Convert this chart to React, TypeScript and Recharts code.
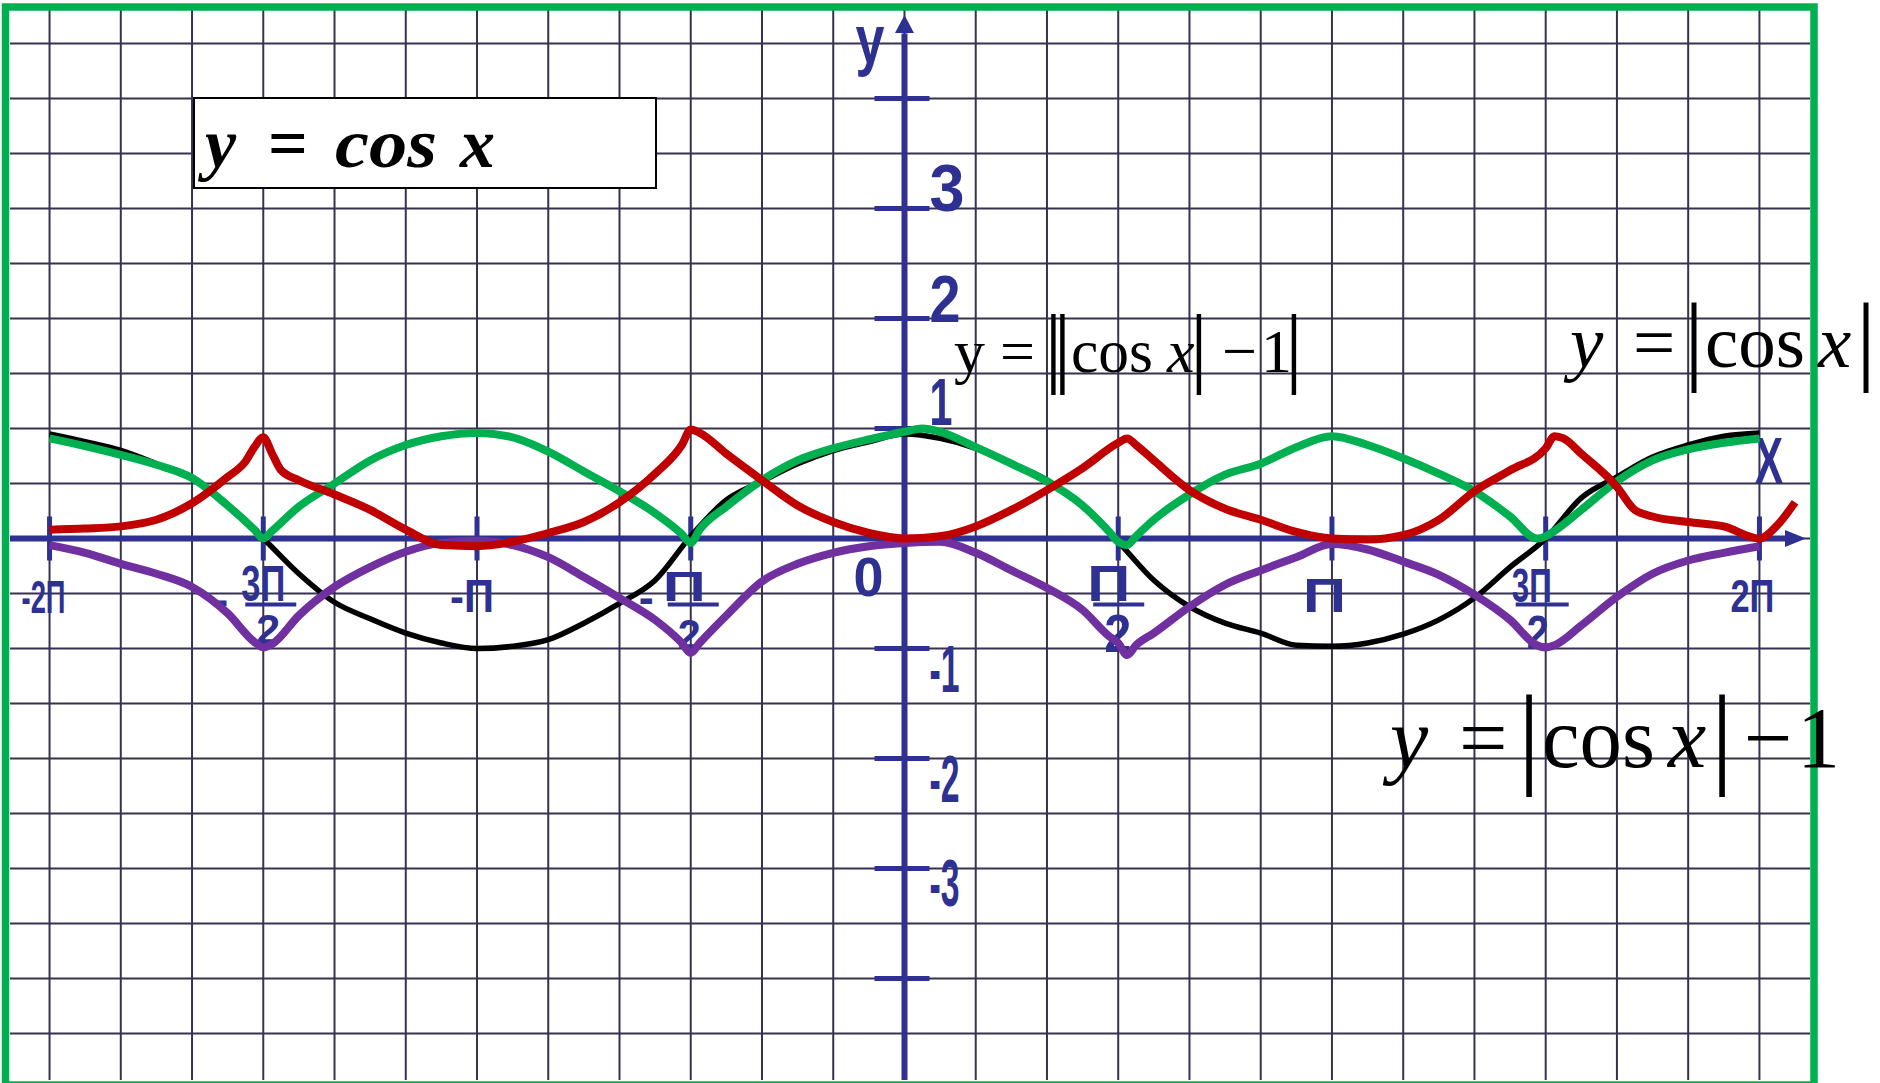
import { Line, LineChart, ReferenceDot, ReferenceLine, XAxis, YAxis } from 'recharts'

const BLUE = '#2E3192'
const GRID = '#37334f'
const LABEL_FONT = "'Liberation Sans Narrow', 'Liberation Sans', Arial, sans-serif"
const SERIF = "'Liberation Serif', 'Times New Roman', serif"

// x is measured in units of π, sampled every π/12 from -2π to 2π
const X_PI = [
  -2, -23 / 12, -11 / 6, -7 / 4, -5 / 3, -19 / 12, -3 / 2, -17 / 12, -4 / 3, -5 / 4, -7 / 6, -13 / 12,
  -1, -11 / 12, -5 / 6, -3 / 4, -2 / 3, -7 / 12, -1 / 2, -5 / 12, -1 / 3, -1 / 4, -1 / 6, -1 / 12,
  0, 1 / 12, 1 / 6, 1 / 4, 1 / 3, 5 / 12, 1 / 2, 7 / 12, 2 / 3, 3 / 4, 5 / 6, 11 / 12,
  1, 13 / 12, 7 / 6, 5 / 4, 4 / 3, 17 / 12, 3 / 2, 19 / 12, 5 / 3, 7 / 4, 11 / 6, 23 / 12, 2,
]

// y = cos x (black)
const COS_Y = [
  0.95, 0.88, 0.8, 0.68, 0.55, 0.3, 0.0, -0.32, -0.58, -0.73, -0.86, -0.95,
  -1.0, -0.98, -0.92, -0.77, -0.59, -0.38, 0.02, 0.35, 0.52, 0.68, 0.8, 0.88,
  0.95, 0.91, 0.82, 0.68, 0.53, 0.29, -0.03, -0.38, -0.62, -0.77, -0.86, -0.97,
  -0.98, -0.95, -0.87, -0.74, -0.54, -0.26, 0.0, 0.37, 0.56, 0.74, 0.85, 0.93, 0.96,
]

// y = |cos x| (green)
const ABS_Y = [
  0.91, 0.84, 0.76, 0.67, 0.55, 0.3, 0.0, 0.29, 0.5, 0.71, 0.85, 0.93,
  0.96, 0.92, 0.79, 0.61, 0.43, 0.23, -0.04, 0.29, 0.53, 0.71, 0.82, 0.9,
  0.97, 0.97, 0.83, 0.68, 0.52, 0.3, -0.03, 0.17, 0.4, 0.58, 0.68, 0.83,
  0.93, 0.85, 0.73, 0.59, 0.43, 0.2, 0.02, 0.26, 0.52, 0.71, 0.81, 0.87, 0.91,
]
const ABS_EXTRA = [
  [-1.5 - 1 / 48, 0.08], [-1.5 + 1 / 48, 0.07], [-0.5 - 1 / 48, 0.04], [-0.5 + 1 / 48, 0.08],
  [1 / 24, 1.0], [0.5 - 1 / 48, 0.06], [0.5 + 1 / 48, -0.06], [0.5 + 1 / 24, 0.02],
  [1.5 - 1 / 48, 0.0], [1.5 + 1 / 48, 0.07],
]

// y = |cos x| - 1 (purple)
const ABS_M1_Y = [
  -0.06, -0.13, -0.23, -0.32, -0.44, -0.68, -0.99, -0.7, -0.44, -0.26, -0.12, -0.04,
  -0.02, -0.06, -0.17, -0.35, -0.54, -0.74, -1.04, -0.7, -0.39, -0.23, -0.13, -0.07,
  -0.04, -0.03, -0.13, -0.29, -0.45, -0.65, -0.95, -0.86, -0.62, -0.42, -0.29, -0.17,
  -0.05, -0.1, -0.21, -0.33, -0.51, -0.74, -0.99, -0.79, -0.53, -0.32, -0.2, -0.13, -0.07,
]
const ABS_M1_EXTRA = [
  [-1.5 - 1 / 48, -0.94], [-1.5 + 1 / 48, -0.96], [-0.5 - 1 / 48, -0.95], [-0.5 + 1 / 48, -0.95],
  [0.5 - 1 / 48, -0.89], [0.5 + 1 / 48, -1.06], [0.5 + 1 / 24, -0.97],
  [1.5 - 1 / 48, -0.97], [1.5 + 1 / 48, -0.97],
]

// y = ||cos x| - 1| (red)
const ABS_ABS_Y = [
  0.08, 0.09, 0.11, 0.17, 0.32, 0.56, 0.92, 0.53, 0.4, 0.26, 0.08, -0.06,
  -0.07, -0.03, 0.05, 0.15, 0.33, 0.59, 0.99, 0.77, 0.53, 0.3, 0.15, 0.05,
  0.0, 0.02, 0.11, 0.26, 0.44, 0.64, 0.87, 0.71, 0.44, 0.27, 0.17, 0.06,
  0.0, -0.01, 0.03, 0.17, 0.43, 0.62, 0.82, 0.77, 0.47, 0.2, 0.15, 0.11, 0.0,
]
const ABS_ABS_EXTRA = [
  [-1.5 - 1 / 24, 0.7], [-1.5 - 1 / 48, 0.83], [-1.5 + 1 / 48, 0.77], [-1.5 + 1 / 24, 0.62],
  [-0.5 - 1 / 48, 0.85], [-0.5 + 1 / 48, 0.96], [0.5 + 1 / 48, 0.91], [0.5 + 1 / 24, 0.85],
  [1.5 + 1 / 48, 0.93], [1.5 + 1 / 24, 0.91], [5 / 3 + 1 / 24, 0.26], [2 + 1 / 24, 0.12], [2 + 1 / 12, 0.33],
]

const X_TICKS = [-2, -1.5, -1, -0.5, 0.5, 1, 1.5, 2]
const X_TICK_TEXT = ['-2П', '-3П/2', '-П', '-П/2', 'П/2', 'П', '3П/2', '2П']
const Y_TICKS = [-4, -3, -2, -1, 1, 2, 3, 4]
const Y_TICK_TEXT = ['', '-3', '-2', '-1', '1', '2', '3', '']

// squared paper: every π/6 across, every 0.5 down
const GRID_X = Array.from({ length: 25 }, (_, i) => -2 + i / 6)
const GRID_Y = Array.from({ length: 19 }, (_, i) => -4.5 + i * 0.5)

// plot box 10..1810 x 10..1080 px; x: 0 -> 904.5px, π = 427.47px; y: 0 -> 538.5px, 1 = 110px
const X_DOMAIN = [-2.0925, 2.1183]
const Y_DOMAIN = [-4.9227, 4.8045]
const X_TIP = 2.109
const X_ARROW_BASE = 2.064
const Y_TIP = 4.759
const Y_ARROW_BASE = 4.59

type Box = { dx: number; w: number; base: number; size: number }
type XLab = { minus?: { dx: number; w: number; base: number }; num: Box; bar?: { x1: number; x2: number; y: number }; den?: Box }

const X_LABEL_LAYOUT: XLab[] = [
  { num: { dx: -28, w: 44, base: 75, size: 47 } },
  {
    minus: { dx: -50, w: 15, base: 77 },
    num: { dx: -22, w: 44, base: 63, size: 50 },
    bar: { x1: -18, x2: 33, y: 66 },
    den: { dx: -7, w: 24, base: 106, size: 42 },
  },
  { num: { dx: -27, w: 44, base: 74, size: 47 } },
  {
    minus: { dx: -52, w: 15, base: 75 },
    num: { dx: -28, w: 43, base: 63, size: 42 },
    bar: { x1: -23, x2: 28, y: 66 },
    den: { dx: -13, w: 23, base: 111, size: 42 },
  },
  {
    num: { dx: -31, w: 43, base: 63, size: 50 },
    bar: { x1: -25, x2: 26, y: 66 },
    den: { dx: -14, w: 27, base: 114, size: 54 },
  },
  { num: { dx: -29, w: 43, base: 74, size: 48 } },
  {
    num: { dx: -34, w: 40, base: 64, size: 48 },
    bar: { x1: -30, x2: 23, y: 66 },
    den: { dx: -19, w: 22, base: 111, size: 48 },
  },
  { num: { dx: -29, w: 44, base: 74, size: 47 } },
]

const Y_LABEL_LAYOUT = [
  null,
  { w: 30, base: 37 },
  { w: 30, base: 43 },
  { w: 30, base: 44 },
  { w: 23, base: -3 },
  { w: 31, base: 4 },
  { w: 35, base: 3 },
  null,
]

function buildSeries(values: number[], extra: number[][]) {
  const pts = X_PI.map((x, i) => ({ x, y: values[i] }))
  extra.forEach(([x, y]) => pts.push({ x, y }))
  return pts.sort((a, b) => a.x - b.x)
}

function BlueText({ x, y, w, size, children }: { x: number; y: number; w: number; size: number; children: string }) {
  return (
    <text
      x={x}
      y={y}
      fontFamily={LABEL_FONT}
      fontWeight={700}
      fontSize={size}
      fill={BLUE}
      textLength={w}
      lengthAdjust="spacingAndGlyphs"
    >
      {children}
    </text>
  )
}

function XTickMark({ cx, cy, index }: any) {
  const text = X_TICK_TEXT[index]
  const lay = X_LABEL_LAYOUT[index]
  const frac = text.includes('/')
  const body = frac ? text.replace(/^-/, '').split('/') : [text]
  return (
    <g>
      <line x1={cx} y1={cy - 22} x2={cx} y2={cy + 22} stroke={BLUE} strokeWidth={5} />
      {lay.minus && (
        <BlueText x={cx + lay.minus.dx} y={cy + lay.minus.base} w={lay.minus.w} size={47}>
          -
        </BlueText>
      )}
      <BlueText x={cx + lay.num.dx} y={cy + lay.num.base} w={lay.num.w} size={lay.num.size}>
        {body[0]}
      </BlueText>
      {lay.bar && (
        <line x1={cx + lay.bar.x1} y1={cy + lay.bar.y} x2={cx + lay.bar.x2} y2={cy + lay.bar.y} stroke={BLUE} strokeWidth={4} />
      )}
      {lay.den && frac && (
        <BlueText x={cx + lay.den.dx} y={cy + lay.den.base} w={lay.den.w} size={lay.den.size}>
          {body[1]}
        </BlueText>
      )}
    </g>
  )
}

function YTickMark({ cx, cy, index }: any) {
  const lay = Y_LABEL_LAYOUT[index]
  return (
    <g>
      <line x1={cx - 30} y1={cy} x2={cx + 25} y2={cy} stroke={BLUE} strokeWidth={5} />
      {lay && (
        <BlueText x={cx + 25} y={cy + lay.base} w={lay.w} size={66}>
          {Y_TICK_TEXT[index]}
        </BlueText>
      )}
    </g>
  )
}

export default function App() {
  const cosData = buildSeries(COS_Y, [])
  const absData = buildSeries(ABS_Y, ABS_EXTRA)
  const absM1Data = buildSeries(ABS_M1_Y, ABS_M1_EXTRA)
  const absAbsData = buildSeries(ABS_ABS_Y, ABS_ABS_EXTRA)

  return (
    <div style={{ position: 'fixed', left: 0, top: 0, width: 1880, height: 1083, background: '#ffffff', overflow: 'hidden' }}>
      <LineChart width={1880} height={1083} margin={{ top: 10, right: 70, bottom: 3, left: 10 }}>
        <XAxis dataKey="x" type="number" domain={X_DOMAIN} hide allowDataOverflow />
        <YAxis type="number" domain={Y_DOMAIN} hide allowDataOverflow />

        {GRID_X.map((v) => (
          <ReferenceLine key={`gx${v}`} x={v} stroke={GRID} strokeWidth={2} zIndex={300} />
        ))}
        {GRID_Y.map((v) => (
          <ReferenceLine key={`gy${v}`} y={v} stroke={GRID} strokeWidth={2} zIndex={300} />
        ))}

        <ReferenceLine segment={[{ x: X_DOMAIN[0], y: 0 }, { x: X_ARROW_BASE, y: 0 }]} stroke={BLUE} strokeWidth={6} zIndex={340} />
        <ReferenceLine segment={[{ x: 0, y: Y_DOMAIN[0] }, { x: 0, y: Y_ARROW_BASE }]} stroke={BLUE} strokeWidth={6} zIndex={340} />
        <ReferenceDot
          x={X_TIP}
          y={0}
          r={1}
          zIndex={350}
          shape={({ cx, cy }: any) => (
            <g>
              <polygon points={`${cx},${cy} ${cx - 21},${cy - 8.5} ${cx - 21},${cy + 8.5}`} fill={BLUE} />
              <BlueText x={cx - 51} y={cy - 55} w={28} size={64}>
                X
              </BlueText>
            </g>
          )}
        />
        <ReferenceDot
          x={0}
          y={Y_TIP}
          r={1}
          zIndex={350}
          shape={({ cx, cy }: any) => (
            <g>
              <polygon points={`${cx},${cy} ${cx - 9.5},${cy + 18} ${cx + 9.5},${cy + 18}`} fill={BLUE} />
              <BlueText x={cx - 49} y={cy + 48} w={29} size={68}>
                y
              </BlueText>
            </g>
          )}
        />
        <ReferenceDot
          x={0}
          y={0}
          r={1}
          zIndex={350}
          shape={({ cx, cy }: any) => (
            <BlueText x={cx - 51} y={cy + 58} w={30} size={56}>
              0
            </BlueText>
          )}
        />
        {X_TICKS.map((t, i) => (
          <ReferenceDot key={`xt${t}`} x={t} y={0} r={1} zIndex={350} shape={(p: any) => <XTickMark {...p} index={i} />} />
        ))}
        {Y_TICKS.map((t, i) => (
          <ReferenceDot key={`yt${t}`} x={0} y={t} r={1} zIndex={350} shape={(p: any) => <YTickMark {...p} index={i} />} />
        ))}

        <Line data={cosData} dataKey="y" type="monotone" stroke="#000000" strokeWidth={5.5} dot={false} activeDot={false} isAnimationActive={false} />
        <Line data={absM1Data} dataKey="y" type="monotone" stroke="#7030A0" strokeWidth={8} dot={false} activeDot={false} isAnimationActive={false} />
        <Line data={absData} dataKey="y" type="monotone" stroke="#00B050" strokeWidth={8} dot={false} activeDot={false} isAnimationActive={false} />
        <Line data={absAbsData} dataKey="y" type="monotone" stroke="#C00000" strokeWidth={8} dot={false} activeDot={false} isAnimationActive={false} />
      </LineChart>

      <svg width={1880} height={1083} style={{ position: 'absolute', left: 0, top: 0, pointerEvents: 'none' }}>
        <rect x={5.5} y={7} width={1808.5} height={1078} fill="none" stroke="#00B050" strokeWidth={7.5} />

        <rect x={194} y={98} width={462} height={90} fill="#ffffff" stroke="#000000" strokeWidth={2} />
        <text y={167} fontFamily={SERIF} fontWeight={700} fontStyle="italic" fontSize={70} fill="#000">
          <tspan x={205}>y</tspan>
          <tspan x={268} fontStyle="normal">=</tspan>
          <tspan x={335} textLength={102} lengthAdjust="spacingAndGlyphs">cos</tspan>
          <tspan x={460}>x</tspan>
        </text>

        <text fontFamily={SERIF} fill="#000">
          <tspan x={954} y={372} fontSize={62}>y</tspan>
          <tspan x={1000} y={372} fontSize={62}>=</tspan>
          <tspan x={1044.6} y={376} fontSize={89}>|</tspan>
          <tspan x={1053.6} y={376} fontSize={89}>|</tspan>
          <tspan x={1071} y={372} fontSize={62} textLength={82} lengthAdjust="spacingAndGlyphs">cos</tspan>
          <tspan x={1167} y={372} fontSize={62} fontStyle="italic">x</tspan>
          <tspan x={1190} y={376} fontSize={89}>|</tspan>
          <tspan x={1222} y={372} fontSize={62}>−</tspan>
          <tspan x={1261} y={372} fontSize={62}>1</tspan>
          <tspan x={1285.1} y={376} fontSize={89}>|</tspan>
        </text>

        <text fontFamily={SERIF} fill="#000">
          <tspan x={1570} y={367} fontSize={75} fontStyle="italic">y</tspan>
          <tspan x={1633} y={367} fontSize={75}>=</tspan>
          <tspan x={1684} y={372} fontSize={100}>|</tspan>
          <tspan x={1705} y={367} fontSize={75} textLength={100} lengthAdjust="spacingAndGlyphs">cos</tspan>
          <tspan x={1818} y={367} fontSize={75} fontStyle="italic">x</tspan>
          <tspan x={1856} y={372} fontSize={100}>|</tspan>
        </text>

        <text fontFamily={SERIF} fill="#000">
          <tspan x={1390} y={767} fontSize={86} fontStyle="italic">y</tspan>
          <tspan x={1459} y={767} fontSize={86}>=</tspan>
          <tspan x={1517.7} y={773} fontSize={113}>|</tspan>
          <tspan x={1542} y={767} fontSize={86} textLength={113} lengthAdjust="spacingAndGlyphs">cos</tspan>
          <tspan x={1668} y={767} fontSize={86} fontStyle="italic">x</tspan>
          <tspan x={1710.7} y={773} fontSize={113}>|</tspan>
          <tspan x={1744} y={767} fontSize={86}>−</tspan>
          <tspan x={1797} y={767} fontSize={86}>1</tspan>
        </text>
      </svg>
    </div>
  )
}
